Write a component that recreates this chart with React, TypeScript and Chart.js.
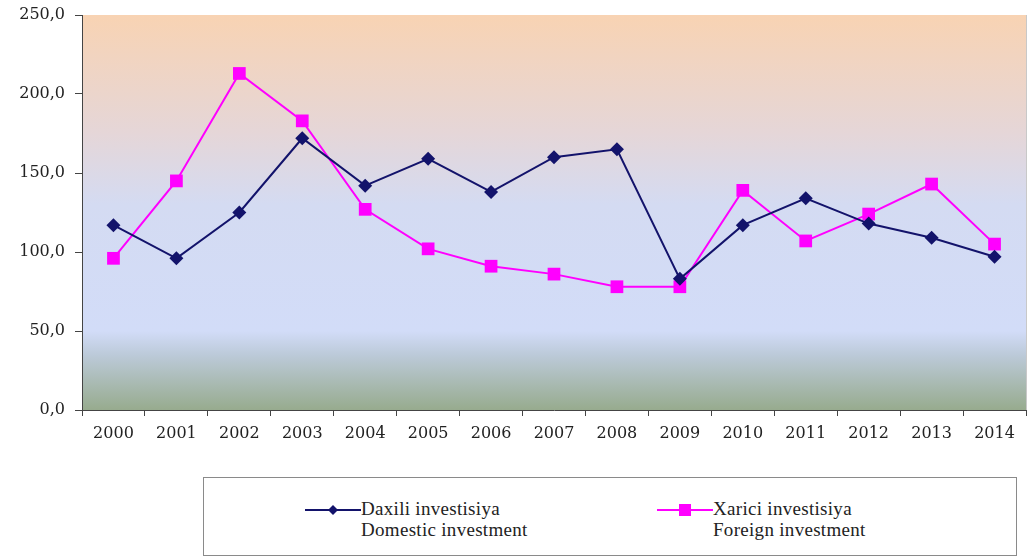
import React, { useEffect, useRef } from "react";
import { Chart, registerables } from "chart.js";

Chart.register(...registerables);

const years = ["2000","2001","2002","2003","2004","2005","2006","2007","2008","2009","2010","2011","2012","2013","2014"];
const domestic = [117, 96, 125, 172, 142, 159, 138, 160, 165, 83, 117, 134, 118, 109, 97];
const foreign = [96, 145, 213, 183, 127, 102, 91, 86, 78, 78, 139, 107, 124, 143, 105];
const domesticLabel = ["Daxili investisiya", "Domestic investment"];
const foreignLabel = ["Xarici investisiya", "Foreign investment"];

const NAVY = "#13136b";
const MAGENTA = "#ff00ff";
const SERIF = "'Liberation Serif', 'Times New Roman', Tinos, 'DejaVu Serif', serif";

const bgPlugin = {
  id: "bgGradient",
  beforeDraw(chart: any) {
    const { ctx, chartArea } = chart;
    if (!chartArea) return;
    const { left, top, right, bottom } = chartArea;
    const g = ctx.createLinearGradient(0, top, 0, bottom);
    g.addColorStop(0, "#f8d3b3");
    g.addColorStop(0.3, "#e5d6d8");
    g.addColorStop(0.48, "#d4dbf2");
    g.addColorStop(0.8, "#d2dcf8");
    g.addColorStop(0.86, "#bccad9");
    g.addColorStop(1, "#97ab8e");
    ctx.save();
    ctx.fillStyle = g;
    ctx.fillRect(left, top, right - left, bottom - top);
    ctx.strokeStyle = "#c8c8c8";
    ctx.lineWidth = 1;
    ctx.beginPath();
    ctx.moveTo(right + 0.5, top);
    ctx.lineTo(right + 0.5, bottom);
    ctx.stroke();
    ctx.restore();
  },
};

function LegendItem({ color, square, lines, left }: { color: string; square: boolean; lines: string[]; left: number }) {
  return (
    <div style={{ position: "absolute", left, top: 20, display: "flex", alignItems: "flex-start" }}>
      <svg width={56} height={24} style={{ display: "block" }}>
        <line x1={0} y1={12} x2={56} y2={12} stroke={color} strokeWidth={2} />
        {square ? (
          <rect x={22} y={6} width={12} height={12} fill={color} />
        ) : (
          <polygon points="28,7 33,12 28,17 23,12" fill={color} />
        )}
      </svg>
      <div style={{ fontFamily: SERIF, fontSize: 19, lineHeight: "21px", letterSpacing: "0.3px", color: "#222", marginTop: 0 }}>
        {lines.map((l, i) => (
          <div key={i}>{l}</div>
        ))}
      </div>
    </div>
  );
}

export default function App() {
  const ref = useRef<HTMLCanvasElement>(null);

  useEffect(() => {
    document.body.style.margin = "0";
    const canvas = ref.current!;
    const tickFont = { family: "'DejaVu Serif', serif", size: 16 };
    const chart = new Chart(canvas, {
      type: "line",
      data: {
        labels: years,
        datasets: [
          {
            label: domesticLabel.join(" "),
            data: domestic,
            borderColor: NAVY,
            backgroundColor: NAVY,
            borderWidth: 2,
            pointStyle: "rectRot",
            pointRadius: 7,
            pointBorderWidth: 0,
            tension: 0,
          },
          {
            label: foreignLabel.join(" "),
            data: foreign,
            borderColor: MAGENTA,
            backgroundColor: MAGENTA,
            borderWidth: 2,
            pointStyle: "rect",
            pointRadius: 9,
            pointBorderWidth: 0,
            tension: 0,
          },
        ],
      },
      options: {
        responsive: false,
        animation: false,
        layout: { padding: { top: 15, right: 2, left: 0, bottom: 0 } },
        plugins: { legend: { display: false }, tooltip: { enabled: false } },
        scales: {
          x: {
            offset: true,
            grid: { offset: true, drawOnChartArea: false, drawTicks: true, tickLength: 6, color: "#444" },
            border: { display: true, color: "#444", width: 1 },
            ticks: { font: tickFont, color: "#222", padding: 8, maxRotation: 0 },
            afterFit: (s: any) => { s.height = 40; },
          },
          y: {
            min: 0,
            max: 250,
            grid: { drawOnChartArea: false, drawTicks: true, tickLength: 7, color: "#444" },
            border: { display: true, color: "#444", width: 1 },
            ticks: {
              stepSize: 50,
              font: tickFont,
              color: "#222",
              padding: 10,
              callback: (v: any) => Number(v).toFixed(1).replace(".", ","),
            },
            afterFit: (s: any) => {
              s.width = 82;
              s.paddingTop = 0;
              s.paddingBottom = 0;
            },
          },
        },
      },
      plugins: [bgPlugin],
    });
    return () => chart.destroy();
  }, []);

  return (
    <div style={{ position: "relative", width: 1035, height: 560, background: "#fff" }}>
      <canvas ref={ref} width={1035} height={450} style={{ position: "absolute", left: 0, top: 0 }} />
      <div
        style={{
          position: "absolute",
          left: 203,
          top: 477,
          width: 814,
          height: 79,
          border: "1px solid #8a8a8a",
          boxSizing: "border-box",
        }}
      >
        <LegendItem color={NAVY} square={false} lines={domesticLabel} left={101} />
        <LegendItem color={MAGENTA} square={true} lines={foreignLabel} left={453} />
      </div>
    </div>
  );
}
